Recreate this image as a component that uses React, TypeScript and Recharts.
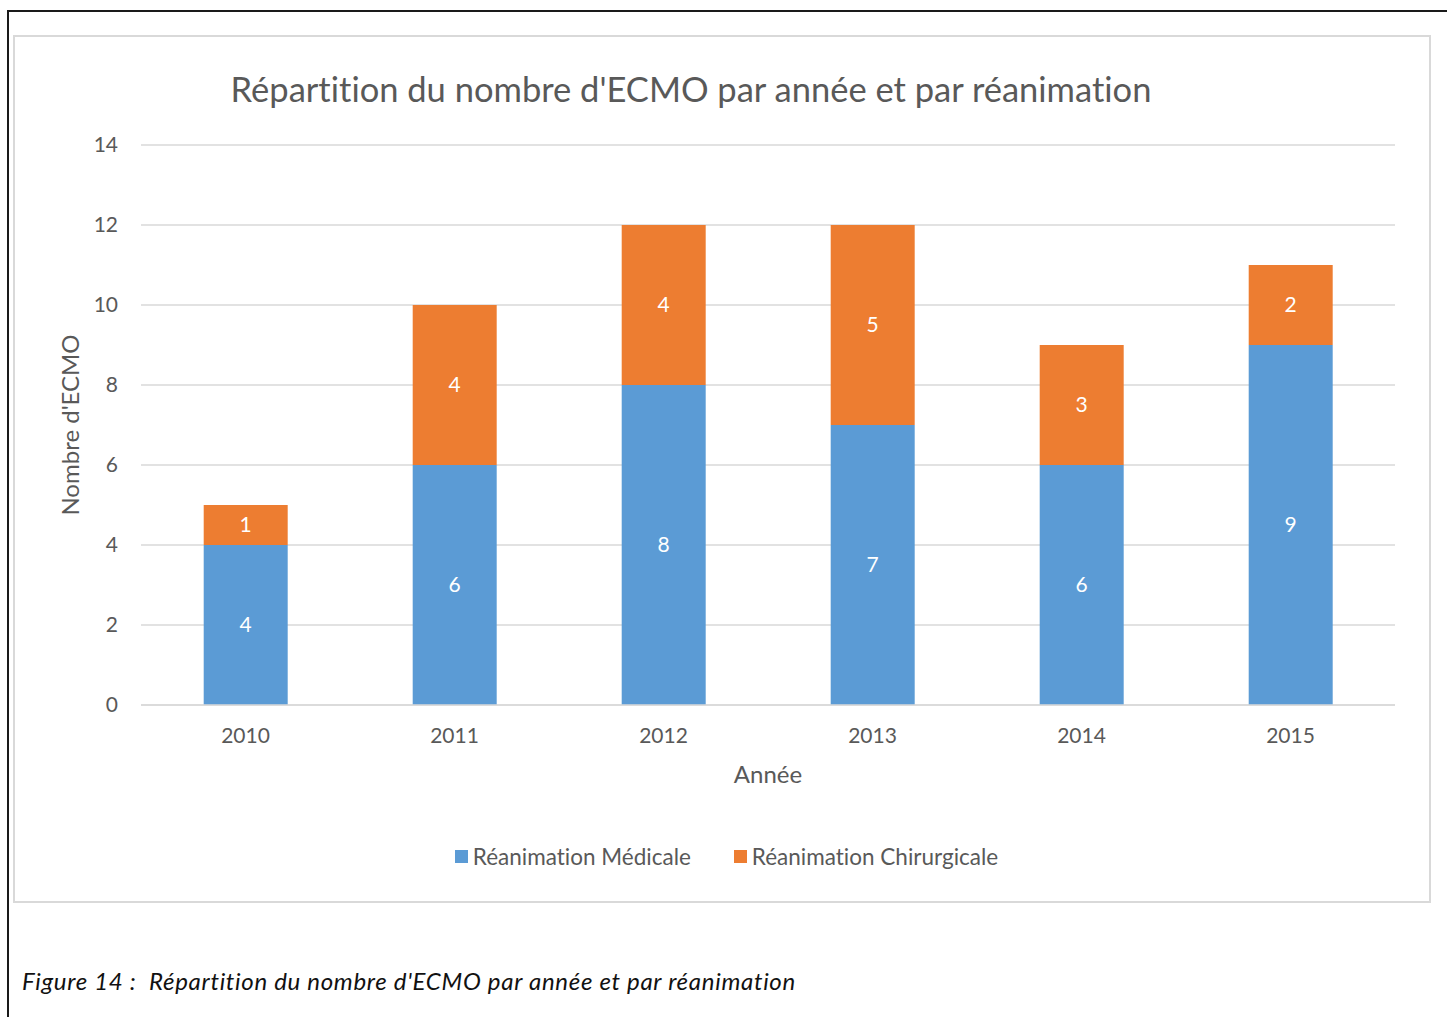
import { BarChart, Bar, XAxis, YAxis, CartesianGrid, Legend, LabelList } from 'recharts';

const years = ['2010', '2011', '2012', '2013', '2014', '2015'];
const medicale = [4, 6, 8, 7, 6, 9];
const chirurgicale = [1, 4, 4, 5, 3, 2];
const yTicks = [0, 2, 4, 6, 8, 10, 12, 14];

const BLUE = '#5B9BD5';
const ORANGE = '#ED7D31';
const TXT = '#595959';
const FONT = 'Lato, "Open Sans", sans-serif';

const data = years.map((y, i) => ({ year: y, med: medicale[i], chir: chirurgicale[i] }));

const legendItems = [
  { name: 'Réanimation Médicale', color: BLUE },
  { name: 'Réanimation Chirurgicale', color: ORANGE },
];

function LegendBox() {
  return (
    <div style={{ height: 88, display: 'flex', alignItems: 'flex-end', justifyContent: 'center', paddingLeft: 8 }}>
      <div style={{ display: 'flex', gap: 43, height: 30, alignItems: 'center', fontFamily: FONT, fontSize: 22.5, color: TXT, fontVariantLigatures: 'none' }}>
        {legendItems.map(it => (
          <span key={it.name} style={{ display: 'flex', alignItems: 'center' }}>
            <span style={{ width: 13, height: 13, background: it.color, marginRight: 5, display: 'inline-block' }} />
            {it.name}
          </span>
        ))}
      </div>
    </div>
  );
}

export default function App() {
  return (
    <div style={{ position: 'absolute', left: 0, top: 0, width: 1447, height: 1017, overflow: 'hidden', background: '#fff', fontVariantLigatures: 'none' }}>
      <div style={{ position: 'absolute', left: 7, top: 10, width: 1460, height: 1030, borderLeft: '2px solid #1a1a1a', borderTop: '2px solid #1a1a1a' }} />
      <div style={{ position: 'absolute', left: 13, top: 35, width: 1414, height: 864, border: '2px solid #d9d9d9' }} />
      <div style={{ position: 'absolute', left: 0, top: 68, width: 1382, textAlign: 'center', fontFamily: FONT, fontSize: 34.5, color: TXT, whiteSpace: 'nowrap' }}>
        Répartition du nombre d'ECMO par année et par réanimation
      </div>
      <div style={{ position: 'absolute', left: 0, top: 0 }}>
        <BarChart width={1447} height={1017} data={data} margin={{ top: 145, right: 52, bottom: 146, left: 50 }} barCategoryGap="30%">
          <CartesianGrid vertical={false} stroke="#d9d9d9" strokeWidth={1.5} />
          <XAxis
            dataKey="year"
            height={78}
            axisLine={{ stroke: '#d9d9d9', strokeWidth: 1.5 }}
            tickLine={false}
            tickMargin={17}
            tick={{ fontSize: 21, fill: TXT, fontFamily: FONT }}
            label={{ value: 'Année', position: 'insideBottom', offset: 0, fontSize: 24, fill: TXT, fontFamily: FONT }}
          />
          <YAxis
            width={91}
            domain={[0, 14]}
            ticks={yTicks}
            axisLine={false}
            tickLine={false}
            tickMargin={17}
            tick={{ fontSize: 21, fill: TXT, fontFamily: FONT }}
            label={{ value: "Nombre d'ECMO", angle: -90, position: 'insideLeft', offset: 20, fontSize: 24, fill: TXT, fontFamily: FONT, style: { textAnchor: 'middle' } }}
          />
          <Legend verticalAlign="bottom" content={() => <LegendBox />} />
          <Bar dataKey="med" stackId="a" fill={BLUE} name="Réanimation Médicale" isAnimationActive={false}>
            <LabelList dataKey="med" position="center" fill="#fff" fontSize={21} fontFamily={FONT} />
          </Bar>
          <Bar dataKey="chir" stackId="a" fill={ORANGE} name="Réanimation Chirurgicale" isAnimationActive={false}>
            <LabelList dataKey="chir" position="center" fill="#fff" fontSize={21} fontFamily={FONT} />
          </Bar>
        </BarChart>
      </div>
      <div style={{ position: 'absolute', left: 22, top: 966, fontFamily: FONT, fontStyle: 'italic', fontSize: 24, letterSpacing: 0.7, color: '#111', whiteSpace: 'pre' }}>
        {"Figure 14 :  Répartition du nombre d'ECMO par année et par réanimation"}
      </div>
    </div>
  );
}
